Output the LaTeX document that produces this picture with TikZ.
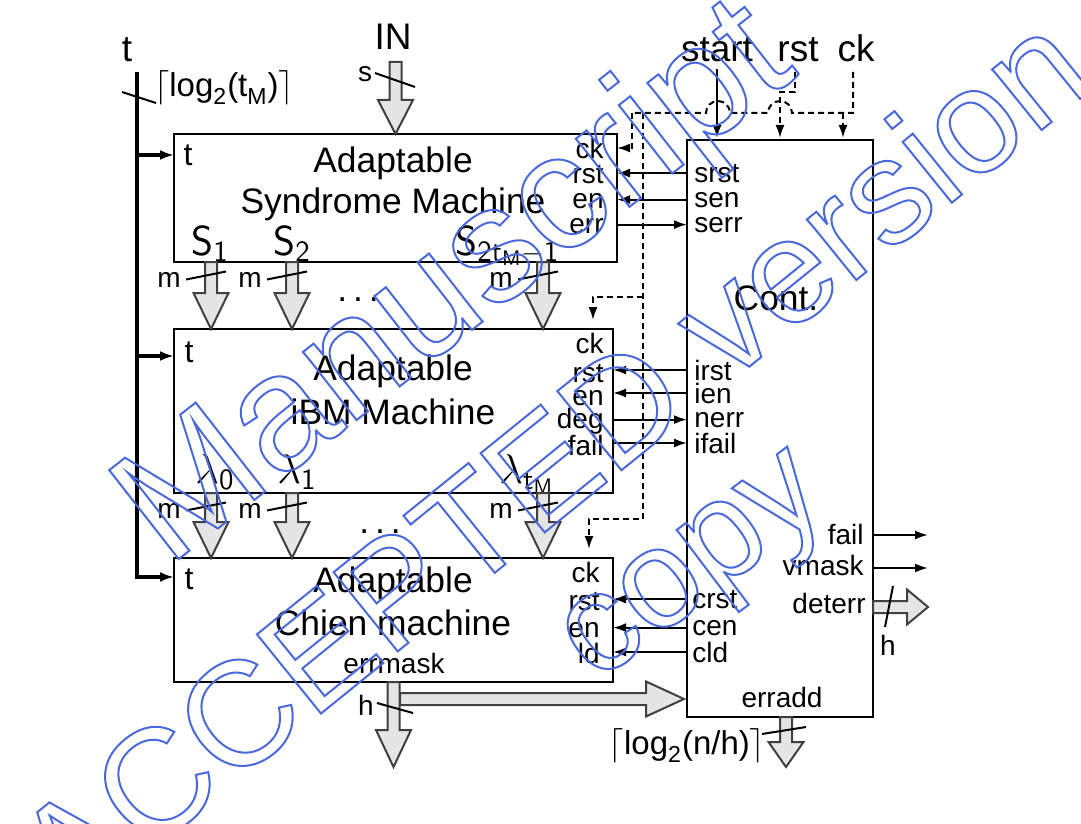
\documentclass[tikz,border=0pt]{standalone}
\usepackage{fontspec}
\usepackage{amsmath}
\setmainfont{Liberation Sans}
\usetikzlibrary{arrows.meta,calc,fit}

\definecolor{busgray}{RGB}{229,229,229}
\definecolor{busedge}{RGB}{64,64,64}
\definecolor{wmblue}{RGB}{75,105,220}

\newcommand{\topsz}{\fontsize{18.5}{20}\selectfont}
\newcommand{\boxsz}{\fontsize{17.7}{19}\selectfont}
\newcommand{\insz}{\fontsize{16}{17}\selectfont}
\newcommand{\logsz}{\fontsize{16.5}{18}\selectfont}
\newcommand{\portsz}{\fontsize{14}{15}\selectfont}
\newcommand{\symsz}{\fontsize{21}{23}\selectfont}

% hollow bus arrow going down
\newcommand{\fatdown}[3][18pt]{%
  \draw[fat] let \p1=(#2), \p2=(#3) in
    (\x1-3pt,\y1) -- (\x1-3pt,\y2+#1) -- (\x1-8.75pt,\y2+#1) -- (\x1,\y2)
    -- (\x1+8.75pt,\y2+#1) -- (\x1+3pt,\y2+#1) -- (\x1+3pt,\y1) -- cycle;}
% hollow bus arrow going right
\newcommand{\fatright}[3][18pt]{%
  \draw[fat] let \p1=(#2), \p2=(#3) in
    (\x1,\y1+3pt) -- (\x2-#1,\y1+3pt) -- (\x2-#1,\y1+8.75pt) -- (\x2,\y1)
    -- (\x2-#1,\y1-8.75pt) -- (\x2-#1,\y1-3pt) -- (\x1,\y1-3pt) -- cycle;}
% outlined letters
\newcommand{\hollow}[1]{\special{pdf:literal direct 1 Tr 1 w 0.29 0.41 0.86 RG}#1\special{pdf:literal direct 0 Tr}}

\tikzset{
  box/.style={draw, line width=1.3pt, inner sep=0pt, outer sep=0pt},
  bus/.style={line width=2.2pt},
  sig/.style={line width=1pt, -{Latex[length=6.5pt,width=4.5pt]}},
  ctl/.style={sig, dash pattern=on 3pt off 2pt},
  dashline/.style={line width=1pt, dash pattern=on 3pt off 2pt},
  fat/.style={draw=busedge, fill=busgray, line width=1pt},
  slash/.style={line width=1pt},
  port/.style={font=\portsz, inner sep=0pt},
  title/.style={font=\boxsz, anchor=base, inner sep=0pt},
  tin/.style={font=\insz, anchor=base, inner sep=0pt},
  sym/.style={font=\symsz, anchor=base west, inner sep=0pt},
  wm/.style={text=wmblue, inner sep=0pt},
}

\begin{document}
\begin{tikzpicture}[x=0.5pt,y=-0.5pt]
\useasboundingbox (0,0) rectangle (1081,824);

% blocks
\node[box, fit={(174,134) (617,262)}] (syn) {};
\node[box, fit={(174,329) (613,493)}] (ibm) {};
\node[box, fit={(174,558) (613,682)}] (chien) {};
\node[box, fit={(687,140) (873,717)}] (cont) {};

\node[title] (syn1) at (393,172) {Adaptable};
\node[title] (syn2) at (393,213) {Syndrome Machine};
\node[title] (ibm1) at (393,380) {Adaptable};
\node[title] (ibm2) at (393,424) {iBM Machine};
\node[title] (chi1) at (393,592) {Adaptable};
\node[title] (chi2) at (393,635) {Chien machine};
\node[port, anchor=base] (emask) at (394,673) {errmask};
\node[title] (ctitle) at (776,310) {Cont.};
\node[port, anchor=base] (eadd) at (782,707) {erradd};

\node[tin] (tsyn) at (188,165) {t};
\node[tin] (tibm) at (189,362) {t};
\node[tin] (tchi) at (189,589) {t};

% outer inputs
\node[font=\topsz, anchor=base] (tbus) at (127,62) {t};
\node[font=\topsz, anchor=base] (innode) at (393,50) {IN};
\node[font=\topsz, anchor=base] (start) at (717,62) {start};
\node[font=\topsz, anchor=base] (rstin) at (798,62) {rst};
\node[font=\topsz, anchor=base] (ckin) at (856,62) {ck};

% ports of the machines
\node[port, anchor=base east] (ck1) at (604,158) {ck};
\node[port, anchor=base east] (rst1) at (604,184) {rst};
\node[port, anchor=base east] (en1) at (604,208) {en};
\node[port, anchor=base east] (err1) at (604,233) {err};
\node[port, anchor=base east] (ck2) at (604,353) {ck};
\node[port, anchor=base east] (rst2) at (604,382) {rst};
\node[port, anchor=base east] (en2) at (604,405) {en};
\node[port, anchor=base east] (deg2) at (604,428) {deg};
\node[port, anchor=base east] (fail2) at (604,455) {fail};
\node[port, anchor=base east] (ck3) at (600,582) {ck};
\node[port, anchor=base east] (rst3) at (600,610) {rst};
\node[port, anchor=base east] (en3) at (600,637) {en};
\node[port, anchor=base east] (ld3) at (600,663) {ld};

% ports of the controller
\node[port, anchor=base west] (srst) at (694,182) {srst};
\node[port, anchor=base west] (sen) at (694,207) {sen};
\node[port, anchor=base west] (serr) at (694,232) {serr};
\node[port, anchor=base west] (irst) at (694,380) {irst};
\node[port, anchor=base west] (ien) at (694,403) {ien};
\node[port, anchor=base west] (nerr) at (694,427) {nerr};
\node[port, anchor=base west] (ifail) at (694,453) {ifail};
\node[port, anchor=base west] (crst) at (692,608) {crst};
\node[port, anchor=base west] (cen) at (692,635) {cen};
\node[port, anchor=base west] (cld) at (692,662) {cld};
\node[port, anchor=base east] (failo) at (864,544) {fail};
\node[port, anchor=base east] (vmask) at (864,575) {vmask};
\node[port, anchor=base east] (deterr) at (866,613) {deterr};

% syndromes and locator coefficients
\node[sym] (S1) at (191,255) {$\mathsf{S}_{\mathsf{1}}$};
\node[sym] (S2) at (273,255) {$\mathsf{S}_{\mathsf{2}}$};
\node[sym] (Sn) at (455,255) {$\mathsf{S}_{\mathsf{2t}_{\mathsf{M}}-\mathsf{1}}$};
\node[sym] (L0) at (195,483) {$\lambda_{\mathsf{0}}$};
\node[sym] (L1) at (277,483) {$\lambda_{\mathsf{1}}$};
\node[sym] (Ln) at (499,483) {$\lambda_{\mathsf{t}_{\mathsf{M}}}$};
\node[font=\boxsz, anchor=base] (dots1) at (358,301) {.\,.\,.};
\node[font=\boxsz, anchor=base] (dots2) at (380,533) {.\,.\,.};

% t bus
\coordinate (bustop) at (137,72);
\coordinate (bt1) at (137,155);
\coordinate (bt2) at (137,356);
\coordinate (bt3) at (137,577);
\draw[bus, -{Latex[length=7pt,width=5pt]}] (bustop) |- (chien.west |- bt3);
\draw[bus, -{Latex[length=7pt,width=5pt]}] (bt1) -- (bt1 -| syn.west);
\draw[bus, -{Latex[length=7pt,width=5pt]}] (bt2) -- (bt2 -| ibm.west);
\draw[slash] (122,92) -- (156,103);
\node[font=\logsz] (logt) at (224,88) {$\left\lceil\text{log}_{\text{2}}\text{(t}_{\text{M}}\text{)}\right\rceil$};

% input stream
\coordinate (intop) at (395.5,62);
\fatdown[17pt]{intop}{intop |- syn.north}
\draw[slash] (375,73) -- (415,87);
\node[port, anchor=base] (sin) at (365,82) {s};

% buses between the machines
\coordinate (col1) at (211,0);
\coordinate (col2) at (292,0);
\coordinate (col3) at (543,0);
\foreach \c in {col1,col2,col3}{
  \fatdown{syn.south -| \c}{ibm.north -| \c}
  \fatdown{ibm.south -| \c}{chien.north -| \c}
  \draw[slash] ($(syn.south -| \c)+(-25,17.5)$) -- ($(syn.south -| \c)+(15,9.5)$);
  \draw[slash] ($(ibm.south -| \c)+(-25,17.5)$) -- ($(ibm.south -| \c)+(15,9.5)$);
  \node[port, anchor=base east] (m-\c-a) at ($(syn.south -| \c)+(-30,25)$) {m};
  \node[port, anchor=base east] (m-\c-b) at ($(ibm.south -| \c)+(-30,25)$) {m};
}

% error mask out
\coordinate (maskout) at (394,767);
\coordinate (maskbr) at (400,699);
\fatdown[18.5pt]{chien.south}{chien.south |- maskout}
\fatright[19pt]{maskbr}{$(cont.west |- maskbr)+(-3,0)$}
\draw[slash] (377,703) -- (413,713);
\node[port, anchor=base] (hmask) at (366,715) {h};

% controller outputs
\coordinate (failend) at (928,535);
\coordinate (vmend) at (928,568);
\coordinate (detend) at (928,607);
\coordinate (addout) at (786,767);
\draw[sig] (cont.east |- failend) -- (failend);
\draw[sig] (cont.east |- vmend) -- (vmend);
\fatright[10.5pt]{cont.east |- detend}{detend}
\draw[slash] (885,627) -- (893,586);
\node[port, anchor=base] (hdet) at (888,655) {h};
\fatdown[12.5pt]{cont.south -| addout}{addout}
\draw[slash] (762,734) -- (806,727);
\node[font=\logsz] (logn) at (687,746) {$\left\lceil\text{log}_{\text{2}}\text{(n/h)}\right\rceil$};

% control signals
\draw[sig] (cont.west |- srst) -- (syn.east |- srst);
\draw[sig] (cont.west |- sen) -- (syn.east |- sen);
\draw[sig] (syn.east |- serr) -- (cont.west |- serr);
\draw[sig] (cont.west |- irst) -- (ibm.east |- irst);
\draw[sig] (cont.west |- ien) -- (ibm.east |- ien);
\draw[sig] (ibm.east |- nerr) -- (cont.west |- nerr);
\draw[sig] (ibm.east |- ifail) -- (cont.west |- ifail);
\draw[sig] (cont.west |- crst) -- (chien.east |- crst);
\draw[sig] (cont.west |- cen) -- (chien.east |- cen);
\draw[sig] (cont.west |- cld) -- (chien.east |- cld);

% start, rst and ck
\draw[sig, shorten >=1pt] (start.south) -- (start.south |- cont.north);
\coordinate (rsttop) at (795,72);
\coordinate (rstbend) at (795,92);
\coordinate (rstx) at (780,92);
\draw[ctl, shorten >=1pt] (rsttop) -- (rstbend) -- (rstx) -- (rstx |- cont.north);
\coordinate (cktop) at (853,72);
\coordinate (ckbar) at (853,113);
\coordinate (ckleft) at (632,113);
\coordinate (ckdown) at (643,113);
\coordinate (ckcont) at (843,113);
\coordinate (ck2bar) at (643,297);
\coordinate (ck3bar) at (643,519);
\coordinate (ck2x) at (593,0);
\coordinate (ck3x) at (589,0);
\draw[dashline] (cktop) -- (ckbar) -- (792,113) arc[start angle=0, end angle=180, radius=6pt]
  -- (730,113) arc[start angle=0, end angle=180, radius=6pt] -- (ckleft);
\draw[ctl, shorten >=1pt] (ckcont) -- (ckcont |- cont.north);
\draw[ctl] (ckleft) |- (syn.east |- ck1);
\draw[ctl, shorten >=4.5pt] (ckdown) -- (ck3bar) -| (chien.north -| ck3x);
\draw[ctl, shorten >=4.5pt] (ck2bar) -| (ibm.north -| ck2x);

% watermark
\node[wm, font=\fontsize{82}{90}\selectfont, rotate=38] (wm1) at (458,287) {\hollow{Manuscript}};
\node[wm, font=\fontsize{74}{80}\selectfont, rotate=39] (wm2) at (550,460) {\hollow{ACCEPTED version}};
\node[wm, font=\fontsize{70}{80}\selectfont, rotate=37] (wm3) at (700,576) {\hollow{copy}};
\end{tikzpicture}
\end{document}
